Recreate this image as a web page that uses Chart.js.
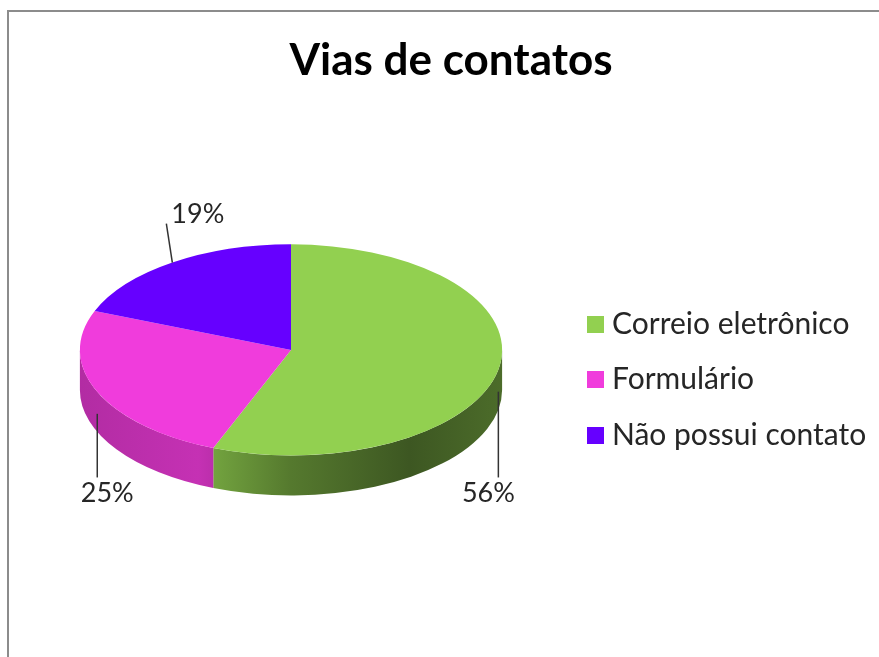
<!DOCTYPE html>
<html>
<head>
<meta charset="utf-8">
<script src="https://cdn.jsdelivr.net/npm/chart.js@4.4.1/dist/chart.umd.min.js"></script>
<style>
  html, body { margin: 0; background: #fff; }
  canvas { display: block; }
</style>
</head>
<body>
<canvas id="chart" width="879" height="657"></canvas>
<script>
const chartTitle = "Vias de contatos";
const categories = ["Correio eletrônico", "Formulário", "Não possui contato"];
const shares = [56, 25, 19]; // percent of sites
const sliceColors = ["#92d050", "#f03cdc", "#6600ff"];

const TILT = 0.5;    // ellipse height / width
const DEPTH = 40;    // thickness of the pie wall
const LEGEND_SIZE = 30;
const SWATCH = 17;   // legend square
const SLOT = 3;      // legend slot the square is centred on (keeps the text close)

// where things sit in the reference picture
const W = 879, PIE_CX = 291, ITEM_X = 594, TITLE_CX = 451, ROW1_MID = 324;
const CHART_TOP = 158.8, CHART_BOTTOM = 581;

const total = shares.reduce((a, b) => a + b, 0);
const pctLabels = shares.map(v => Math.round(v / total * 100) + "%");

// legend width depends on the text, so measure it first
const m = document.createElement("canvas").getContext("2d");
m.font = LEGEND_SIZE + "px Lato";
const textW = Math.max(...categories.map(c => m.measureText(c).width));
const padRight = W - ITEM_X - SLOT - LEGEND_SIZE / 2 - textW - 10;
const padLeft = padRight + (2 * TITLE_CX - W);
const legendW = W + (2 * TITLE_CX - W) - 2 * PIE_CX;
const legendPad = ITEM_X - (W - padRight - legendW);
const rowGap = 55.5; // distance between legend rows
const legendLH = Math.max(rowGap - legendPad, 1) / LEGEND_SIZE;
const spacer = Math.max(2 * ROW1_MID - (CHART_TOP + CHART_BOTTOM) - legendPad + 3 * rowGap - LEGEND_SIZE, 0.5);

function shade(hex, f) {
  const n = parseInt(hex.slice(1), 16);
  const r = Math.round((n >> 16 & 255) * f);
  const g = Math.round((n >> 8 & 255) * f);
  const b = Math.round((n & 255) * f);
  return `rgb(${r},${g},${b})`;
}

function swatch(color) {
  const c = document.createElement("canvas");
  c.width = SWATCH;
  c.height = SWATCH;
  const g = c.getContext("2d");
  g.fillStyle = color;
  g.fillRect(0, 0, SWATCH, SWATCH);
  return c;
}

const frame = {
  id: "frame",
  beforeDraw(chart) {
    const ctx = chart.ctx;
    ctx.save();
    ctx.strokeStyle = "#8c8c8c";
    ctx.lineWidth = 2;
    ctx.beginPath();
    ctx.moveTo(8, chart.height);
    ctx.lineTo(8, 11);
    ctx.lineTo(chart.width, 11);
    ctx.stroke();
    ctx.restore();
  }
};

// squash the pie into an ellipse and give it a wall
const pie3d = {
  id: "pie3d",
  beforeDatasetsDraw(chart) {
    const ctx = chart.ctx;
    const arcs = chart.getDatasetMeta(0).data;
    const { x, y, outerRadius: r } = arcs[0];
    const ry = r * TILT;
    const top = y - DEPTH / 2;

    const shadeStops = [[0, 0.74], [0.28, 0.82], [0.5, 0.58], [0.78, 0.42], [1, 0.52]];
    arcs.forEach((arc, i) => {
      const a0 = Math.max(arc.startAngle, 0);
      const a1 = Math.min(arc.endAngle, Math.PI);
      if (a1 <= a0) return; // back half, wall hidden
      const grad = ctx.createLinearGradient(x - r, 0, x + r, 0);
      shadeStops.forEach(([t, f]) => grad.addColorStop(t, shade(sliceColors[i], f)));
      ctx.beginPath();
      ctx.ellipse(x, top, r, ry, 0, a0, a1);
      ctx.ellipse(x, top + DEPTH, r, ry, 0, a1, a0, true);
      ctx.closePath();
      ctx.fillStyle = grad;
      ctx.fill();
    });

    ctx.save();
    ctx.translate(x, top);
    ctx.scale(1, TILT);
    ctx.translate(-x, -y);
  },
  afterDatasetsDraw(chart) {
    const ctx = chart.ctx;
    ctx.restore();

    const arcs = chart.getDatasetMeta(0).data;
    const { x, y, outerRadius: r } = arcs[0];
    const ry = r * TILT;
    const top = y - DEPTH / 2;

    ctx.save();
    ctx.font = "27px Lato";
    ctx.fillStyle = "#262626";
    ctx.strokeStyle = "#333";
    ctx.lineWidth = 1.5;
    arcs.forEach((arc, i) => {
      const mid = (arc.startAngle + arc.endAngle) / 2;
      const c = Math.cos(mid), s = Math.sin(mid);
      const ax = x + r * c, ay = top + ry * s;
      ctx.beginPath();
      if (s > 0) {
        // front slice: leader runs down from the wall
        const y0 = ay + DEPTH * 0.55, y1 = top + ry + DEPTH - 18;
        ctx.moveTo(ax, y0);
        ctx.lineTo(ax, y1);
        ctx.stroke();
        ctx.textAlign = "center";
        ctx.textBaseline = "middle";
        ctx.fillText(pctLabels[i], ax - Math.sign(c) * 10, y1 + 16);
      } else {
        const ex = ax + Math.sign(c) * 6, ey = ay - 39;
        ctx.moveTo(ax, ay);
        ctx.lineTo(ex, ey);
        ctx.stroke();
        ctx.textAlign = c < 0 ? "left" : "right";
        ctx.textBaseline = "alphabetic";
        ctx.fillText(pctLabels[i], ex - Math.sign(c) * 5, ey - 1);
      }
    });
    ctx.restore();
  }
};

new Chart(document.getElementById("chart"), {
  type: "pie",
  data: {
    labels: categories,
    datasets: [{
      data: shares,
      backgroundColor: sliceColors,
      borderWidth: 0,
      hoverOffset: 0
    }]
  },
  options: {
    responsive: false,
    animation: false,
    layout: { padding: { top: 0, left: padLeft, right: padRight, bottom: 76 } },
    plugins: {
      title: {
        display: true,
        text: chartTitle,
        color: "#000",
        font: { family: "Lato", size: 44, weight: "bold", lineHeight: 1.2 },
        padding: { top: 34, bottom: 72 }
      },
      legend: {
        position: "right",
        align: "center",
        fullSize: false,
        title: { display: true, text: "", padding: 0, font: { size: 10, lineHeight: spacer / 10 } },
        labels: {
          usePointStyle: true,
          pointStyleWidth: SLOT,
          boxHeight: SWATCH,
          padding: legendPad,
          color: "#262626",
          textAlign: "left",
          font: { family: "Lato", size: LEGEND_SIZE, lineHeight: legendLH },
          generateLabels: () => categories.map((c, i) => ({
            text: [c], // array text lets the row height follow lineHeight
            fillStyle: sliceColors[i],
            strokeStyle: sliceColors[i],
            lineWidth: 0,
            pointStyle: swatch(sliceColors[i]),
            fontColor: "#262626",
            textAlign: "left",
            hidden: false,
            index: i
          }))
        }
      },
      tooltip: { enabled: false }
    }
  },
  plugins: [frame, pie3d]
});
</script>
</body>
</html>
